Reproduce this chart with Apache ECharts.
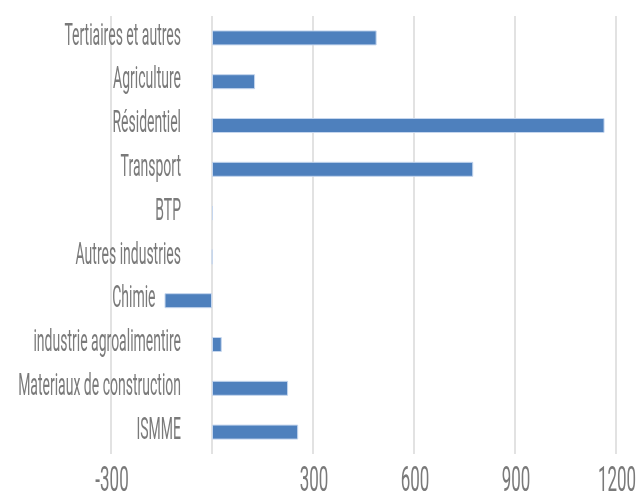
<!DOCTYPE html>
<html><head><meta charset="utf-8">
<script src="https://cdn.jsdelivr.net/npm/echarts@6/dist/echarts.min.js"></script>
<style>html,body{margin:0;padding:0;background:#fff}#c{width:639px;height:498px}</style>
</head><body><div id="c"></div>
<script>
var categories = ['ISMME','Materiaux de construction','industrie agroalimentire','Chimie','Autres industries','BTP','Transport','Résidentiel','Agriculture','Tertiaires et autres'];
var values = [256, 226, 29, -141, 1, 3, 776, 1166, 128, 489];
var xTicks = [-300, 0, 300, 600, 900, 1200];
var FONT = 'Roboto, "Noto Sans", sans-serif';
var TEXT_COLOR = '#7a7a7a';

var chart = echarts.init(document.getElementById('c'));
chart.setOption({
  animation: false,
  grid: {left: 111, right: 23, top: 16, bottom: 44, containLabel: false, outerBoundsMode: 'none'},
  xAxis: {
    type: 'value', min: xTicks[0], max: xTicks[xTicks.length-1], interval: 300,
    axisLine: {show: false}, axisTick: {show: false},
    splitLine: {lineStyle: {color: '#d9d9d9', width: 1.5}},
    axisLabel: {show: false}
  },
  yAxis: {
    type: 'category', data: categories,
    axisLine: {show: false}, axisTick: {show: false},
    axisLabel: {show: false}
  },
  series: [{
    type: 'bar', data: values, barWidth: 15,
    itemStyle: {color: '#4e80bd', borderColor: '#c5d6ee', borderWidth: 1}
  }]
});

// Tall condensed-looking labels: real text, positioned through the chart's own axes
var x0 = chart.convertToPixel({xAxisIndex: 0}, 0);
var gridRect = chart.getModel().getComponent('grid').coordinateSystem.getRect();
var labels = [];
categories.forEach(function (c, i) {
  var y = chart.convertToPixel({yAxisIndex: 0}, i);
  var v = values[i];
  var xr = v < 0 ? chart.convertToPixel({xAxisIndex: 0}, v) - 9 : x0 - 31;
  labels.push({
    type: 'text', x: xr, y: y - 1, scaleY: 2.2, silent: true,
    style: {text: c, font: '14px ' + FONT, fill: TEXT_COLOR, align: 'right', verticalAlign: 'middle'}
  });
});
xTicks.forEach(function (v) {
  if (v === 0) return;
  var x = chart.convertToPixel({xAxisIndex: 0}, v);
  labels.push({
    type: 'text', x: x + 1, y: gridRect.y + gridRect.height + 28, scaleY: 2.1, silent: true,
    style: {text: String(v), font: '17px ' + FONT, fill: TEXT_COLOR, align: 'center', verticalAlign: 'middle'}
  });
});
chart.setOption({graphic: {elements: labels}});
</script></body></html>
